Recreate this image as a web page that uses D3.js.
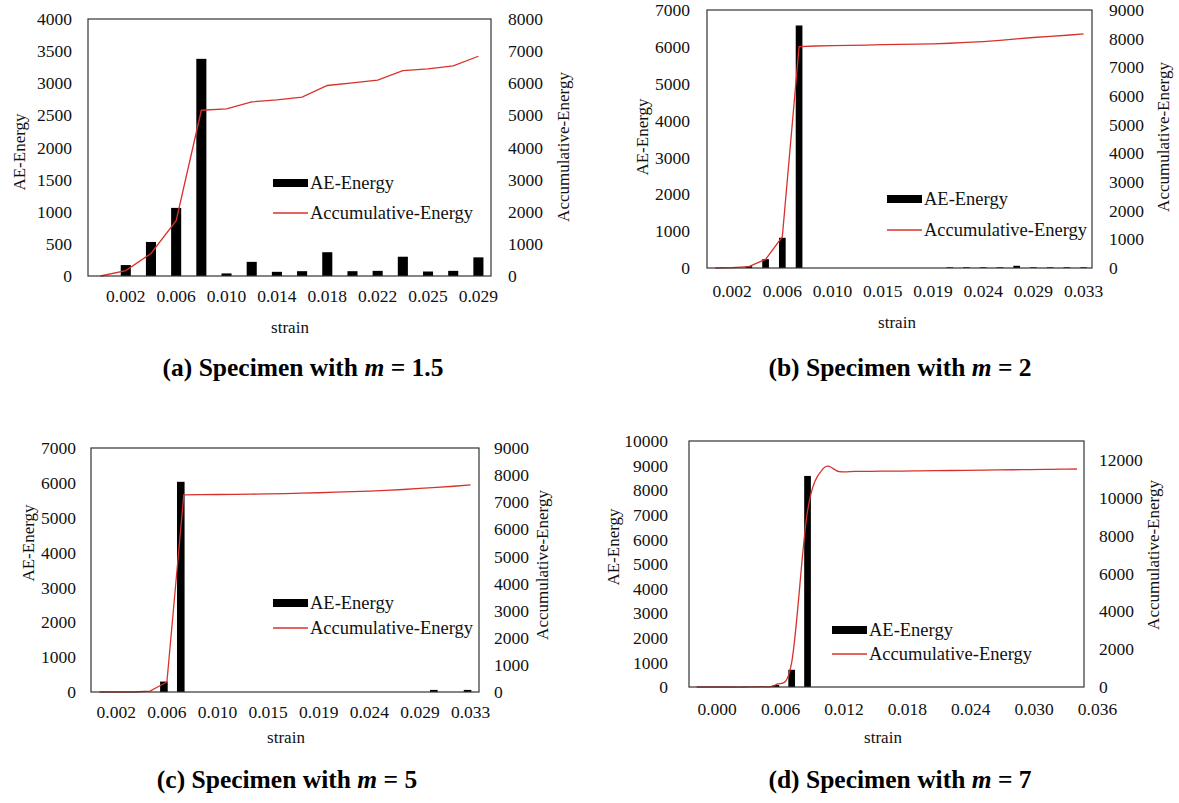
<!DOCTYPE html>
<html>
<head>
<meta charset="utf-8">
<script src="https://cdn.jsdelivr.net/npm/d3@7"></script>
<style>
  body { margin: 0; background: #fff; }
  svg { display: block; }
</style>
</head>
<body>
<div id="main-container"></div>
<script>
// ---- data ----
// (a) m = 1.5
const strainA = ["0.000", "0.002", "0.004", "0.006", "0.008", "0.010", "0.012", "0.014",
    "0.016", "0.018", "0.020", "0.022", "0.023", "0.025", "0.027", "0.029"];
const aeA = [0, 170, 530, 1060, 3380, 40, 220, 65, 75, 370, 75, 80, 300, 70, 80, 290];
const cumA = [0, 170, 700, 1720, 5160, 5200, 5420, 5480, 5570, 5930, 6010, 6100, 6390, 6450, 6540, 6840];

// (b) m = 2
const strainB = ["0.000", "0.002", "0.003", "0.005", "0.006", "0.008", "0.009", "0.010",
    "0.012", "0.013", "0.015", "0.016", "0.018", "0.019", "0.021", "0.022", "0.024", "0.025",
    "0.027", "0.029", "0.030", "0.031", "0.033"];
const aeB = [0, 0, 50, 240, 820, 6580, 0, 0, 0, 0, 0, 0, 0, 0, 20, 20, 20, 20, 60, 20, 20, 20, 20];
const cumB = [0, 10, 50, 300, 1090, 7720, 7745, 7755, 7765, 7775, 7790, 7800, 7810, 7820,
    7840, 7870, 7900, 7940, 7990, 8040, 8080, 8120, 8170];

// (c) m = 5
const strainC = strainB.slice();
const aeC = [0, 0, 0, 0, 300, 6030, 0, 0, 0, 0, 0, 0, 0, 0, 0, 0, 0, 0, 0, 0, 60, 0, 60];
const cumC = [0, 0, 0, 30, 370, 7270, 7280, 7285, 7290, 7300, 7310, 7320, 7335, 7350,
    7370, 7390, 7410, 7440, 7470, 7510, 7550, 7590, 7640];

// (d) m = 7
const strainD = [-0.0019, -0.0004, 0.0011, 0.0026, 0.0041, 0.0056, 0.0071, 0.0086, 0.0101,
    0.0116, 0.0131, 0.0146, 0.0161, 0.0176, 0.0191, 0.0206, 0.0221, 0.0236, 0.0251, 0.0266,
    0.0281, 0.0296, 0.0311, 0.0326, 0.0341];
const aeD = [0, 0, 0, 0, 0, 80, 700, 8580, 0, 0, 0, 0, 0, 0, 0, 0, 0, 0, 0, 0, 0, 0, 0, 0, 0];
const cumD = [0, 0, 0, 0, 20, 120, 1300, 9300, 11550, 11380, 11390, 11400, 11405, 11410,
    11420, 11430, 11440, 11450, 11460, 11470, 11480, 11490, 11500, 11510, 11520];
const ticksD = [0, 0.006, 0.012, 0.018, 0.024, 0.030, 0.036];

const FONT = "'Liberation Serif', 'Times New Roman', serif";
const RED = '#d8322c';

const SVG = d3.select('#main-container').append('svg')
    .attr('width', 1179)
    .attr('height', 803);

function styleAxis(sel, size) {
    sel.select('.domain').remove();
    sel.selectAll('text')
        .attr('fill', '#111')
        .style('font-family', FONT)
        .style('font-size', size + 'px');
}

function drawPanel(p) {
    const g = SVG.append('g');

    let x, xc, barW;
    if (p.linear) {
        x = d3.scaleLinear().domain(p.xDomain).range([p.left, p.right]);
        xc = d => x(d);
        barW = p.barW;
    } else {
        x = d3.scaleBand().domain(p.strain).range([p.left, p.right]);
        xc = d => x(d) + x.bandwidth() / 2;
        barW = x.bandwidth() * p.barRatio;
    }
    const yL = d3.scaleLinear().domain([0, p.leftMax]).range([p.bottom, p.top]);
    const yR = d3.scaleLinear().domain([0, p.rightMax]).range([p.bottom, p.top]);

    // axes
    const ax = p.linear
        ? d3.axisBottom(x).tickValues(p.xTicks).tickFormat(d3.format('.3f'))
        : d3.axisBottom(x).tickValues(p.strain.filter((d, i) => i % p.every === 1));
    g.append('g')
        .attr('transform', `translate(0, ${p.bottom})`)
        .call(ax.tickSize(0).tickPadding(p.xPad))
        .call(s => styleAxis(s, 17.5));

    g.append('g')
        .attr('transform', `translate(${p.left}, 0)`)
        .call(d3.axisLeft(yL).tickValues(d3.range(0, p.leftMax + 1, p.leftStep))
            .tickSize(0).tickPadding(p.lPad).tickFormat(d3.format('d')))
        .call(s => styleAxis(s, 17.5));

    g.append('g')
        .attr('transform', `translate(${p.right}, 0)`)
        .call(d3.axisRight(yR).tickValues(d3.range(0, p.rightTickMax + 1, p.rightStep))
            .tickSize(0).tickPadding(p.rPad).tickFormat(d3.format('d')))
        .call(s => styleAxis(s, 17.5));

    // bars
    const bars = p.strain.map((s, i) => ({ s, v: p.ae[i] })).filter(d => d.v > 0);
    g.append('g')
        .selectAll('rect')
        .data(bars)
        .enter()
        .append('rect')
        .attr('x', d => xc(d.s) - barW / 2 + (p.barShift || 0))
        .attr('y', d => yL(d.v))
        .attr('width', barW)
        .attr('height', d => p.bottom - yL(d.v))
        .attr('fill', '#000');

    // accumulative line
    const line = d3.line()
        .x((d, i) => xc(p.strain[i]))
        .y(d => yR(d))
        .curve(p.smooth ? d3.curveCardinal.tension(0) : d3.curveLinear);
    g.append('path')
        .datum(p.cum)
        .attr('d', line)
        .attr('fill', 'none')
        .attr('stroke', RED)
        .attr('stroke-width', 1.3);

    // plot border
    g.append('rect')
        .attr('x', p.left)
        .attr('y', p.top)
        .attr('width', p.right - p.left)
        .attr('height', p.bottom - p.top)
        .attr('fill', 'none')
        .attr('stroke', '#333')
        .attr('stroke-width', 1.2);

    // axis titles
    const title = (tx, ty, txt, rot) => g.append('text')
        .attr('transform', `translate(${tx}, ${ty})${rot ? ' rotate(-90)' : ''}`)
        .attr('text-anchor', 'middle')
        .attr('dominant-baseline', 'central')
        .attr('fill', '#111')
        .style('font-family', FONT)
        .style('font-size', '17px')
        .text(txt);
    title(p.lTitle[0], p.lTitle[1], 'AE-Energy', true);
    title(p.rTitle[0], p.rTitle[1], 'Accumulative-Energy', true);
    title(p.xTitle[0], p.xTitle[1], 'strain', false);

    // legend
    const lg = g.append('g').attr('transform', `translate(${p.legend[0]}, 0)`);
    lg.append('rect')
        .attr('x', 0).attr('y', p.legend[1] - 4)
        .attr('width', 35).attr('height', 8)
        .attr('fill', '#000');
    lg.append('line')
        .attr('x1', 0).attr('x2', 35)
        .attr('y1', p.legend[2]).attr('y2', p.legend[2])
        .attr('stroke', RED).attr('stroke-width', 1.3);
    [['AE-Energy', p.legend[1]], ['Accumulative-Energy', p.legend[2]]].forEach(([t, ly]) => {
        lg.append('text')
            .attr('x', 37).attr('y', ly)
            .attr('dominant-baseline', 'central')
            .attr('fill', '#111')
            .style('font-family', FONT)
            .style('font-size', '18.5px')
            .text(t);
    });

    // caption
    const cap = SVG.append('text')
        .attr('x', p.caption[0]).attr('y', p.caption[1])
        .attr('text-anchor', 'middle')
        .attr('fill', '#000')
        .style('font-family', FONT)
        .style('font-size', '25.5px')
        .style('font-weight', 'bold');
    cap.append('tspan').text(`(${p.tag}) Specimen with `);
    cap.append('tspan').style('font-style', 'italic').text('m');
    cap.append('tspan').text(` = ${p.m}`);
}

drawPanel({
    tag: 'a', m: '1.5', strain: strainA, ae: aeA, cum: cumA, every: 2, barRatio: 0.4,
    left: 88, right: 491, top: 19, bottom: 276,
    leftMax: 4000, leftStep: 500, rightMax: 8000, rightTickMax: 8000, rightStep: 1000,
    xPad: 14, lPad: 16, rPad: 17,
    lTitle: [19, 152], rTitle: [563, 147], xTitle: [290, 327],
    legend: [273, 183, 213], caption: [303, 376]
});

drawPanel({
    tag: 'b', m: '2', strain: strainB, ae: aeB, cum: cumB, every: 3, barRatio: 0.4,
    left: 707, right: 1092, top: 10, bottom: 268,
    leftMax: 7000, leftStep: 1000, rightMax: 9000, rightTickMax: 9000, rightStep: 1000,
    xPad: 17, lPad: 17, rPad: 17,
    lTitle: [642, 137], rTitle: [1163, 137], xTitle: [897, 322],
    legend: [887, 199, 230], caption: [900, 376]
});

drawPanel({
    tag: 'c', m: '5', strain: strainC, ae: aeC, cum: cumC, every: 3, barRatio: 0.45, barShift: -3,
    left: 91, right: 479, top: 448, bottom: 692,
    leftMax: 7000, leftStep: 1000, rightMax: 9000, rightTickMax: 9000, rightStep: 1000,
    xPad: 14, lPad: 15, rPad: 15,
    lTitle: [28, 543], rTitle: [542, 565], xTitle: [286, 737],
    legend: [273, 603, 628], caption: [287, 788]
});

drawPanel({
    tag: 'd', m: '7', strain: strainD, ae: aeD, cum: cumD, linear: true, barW: 6.7,
    xDomain: [-0.00262, 0.03477], xTicks: ticksD, smooth: true,
    left: 689, right: 1084, top: 441, bottom: 687,
    leftMax: 10000, leftStep: 1000, rightMax: 13000, rightTickMax: 12000, rightStep: 2000,
    xPad: 16, lPad: 21, rPad: 15,
    lTitle: [613, 547], rTitle: [1153, 555], xTitle: [883, 737],
    legend: [832, 630, 654], caption: [900, 788]
});
</script>
</body>
</html>
